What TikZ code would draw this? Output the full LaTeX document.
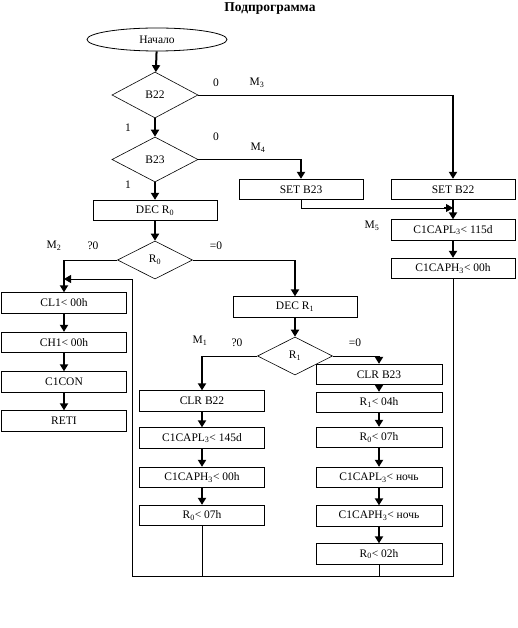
\documentclass[tikz,border=0pt]{standalone}
\usepackage{fontspec}
\setmainfont{Liberation Serif}
\usetikzlibrary{shapes.geometric,arrows.meta}
\begin{document}
\begin{tikzpicture}[x=1pt,y=-1pt,
  every node/.style={font=\fontsize{11.5}{13}\selectfont},
  box/.style={draw,line width=0.8pt,fill=white,minimum width=124pt,minimum height=20.5pt,inner sep=0pt},
  dia/.style={draw,diamond,line width=0.6pt,inner sep=0pt},
  flow/.style={line width=2pt,-{Triangle[length=7pt,width=8pt]}},
  wire/.style={line width=0.8pt},
  lbl/.style={inner sep=0pt}]
\useasboundingbox (0,0) rectangle (518,628);
\node[lbl,font=\fontsize{13.5}{15}\selectfont\bfseries] (title) at (270,9) {Подпрограмма};
\node[draw,ellipse,line width=0.8pt,minimum width=140pt,minimum height=23pt,inner sep=0pt,font=\fontsize{11.5}{13}\selectfont] (start) at (157,39.5) {Начало};
\node[dia,minimum width=86pt,minimum height=46pt] (b22) at (155,95) {B22};
\node[dia,minimum width=86pt,minimum height=45pt] (b23) at (155,159.5) {B23};
\node[box] (setb23) at (301,189.5) {SET B23};
\node[box] (setb22) at (453,189.5) {SET B22};
\node[box] (decr0) at (155,210.5) {DEC R\textsubscript{0}};
\node[box] (capl115) at (453,230) {C1CAPL\textsubscript{3}< 115d};
\node[box] (caph00a) at (453,268.5) {C1CAPH\textsubscript{3}< 00h};
\node[dia,minimum width=75pt,minimum height=38pt] (r0) at (155,260) {R\textsubscript{0}};
\node[box,minimum width=125pt] (cl1) at (64,303) {CL1< 00h};
\node[box,minimum width=125pt] (ch1) at (64,342.5) {CH1< 00h};
\node[box,minimum width=125pt] (c1con) at (64,382) {C1CON};
\node[box,minimum width=125pt] (reti) at (64,421) {RETI};
\node[box] (decr1) at (295,307) {DEC R\textsubscript{1}};
\node[dia,minimum width=75pt,minimum height=38pt] (r1) at (295,356) {R\textsubscript{1}};
\node[box,minimum width=125pt] (clrb22) at (202,401) {CLR B22};
\node[box,minimum width=125pt] (capl145) at (202,438) {C1CAPL\textsubscript{3}< 145d};
\node[box,minimum width=125pt] (caph00b) at (202,477.5) {C1CAPH\textsubscript{3}< 00h};
\node[box,minimum width=125pt] (r007a) at (202,515.5) {R\textsubscript{0}< 07h};
\node[box,minimum width=126pt] (clrb23) at (379,374.5) {CLR B23};
\node[box,minimum width=126pt] (r104) at (379,402.5) {R\textsubscript{1}< 04h};
\node[box,minimum width=126pt] (r007b) at (379,437.5) {R\textsubscript{0}< 07h};
\node[box,minimum width=126pt] (caplnight) at (379,477.5) {C1CAPL\textsubscript{3}< ночь};
\node[box,minimum width=126pt] (caphnight) at (379,516) {C1CAPH\textsubscript{3}< ночь};
\node[box,minimum width=126pt] (r002) at (379,554) {R\textsubscript{0}< 02h};
% labels
\node[lbl] (l0a) at (216,83) {0};
\node[lbl] (lm3) at (257,83) {M\textsubscript{3}};
\node[lbl] (l1a) at (128,128) {1};
\node[lbl] (l0b) at (216,137) {0};
\node[lbl] (lm4) at (258,148) {M\textsubscript{4}};
\node[lbl] (l1b) at (128,185) {1};
\node[lbl] (lm5) at (372,226) {M\textsubscript{5}};
\node[lbl] (lm2) at (54,246) {M\textsubscript{2}};
\node[lbl] (lq0a) at (93,246) {?0};
\node[lbl] (le0a) at (216,246) {=0};
\node[lbl] (lm1) at (200,341) {M\textsubscript{1}};
\node[lbl] (lq0b) at (237,343) {?0};
\node[lbl] (le0b) at (355,343) {=0};
% coordinates
\coordinate (join) at (453,208);
\coordinate (br) at (453,576);
\coordinate (bl) at (132,576);
\coordinate (tl) at (132,279);
\coordinate (entry) at (64,279);
\coordinate (ba) at (202,576);
\coordinate (bb) at (379,576);
% connectors
\draw[flow] (start) -- (b22);
\draw[flow] (b22) -- (b23);
\draw[wire] (b22.east) -- (b22.east -| setb22);
\draw[flow] (b22.east -| setb22) -- (setb22.north);
\draw[wire] (b23.east) -- (b23.east -| setb23);
\draw[flow] (b23.east -| setb23) -- (setb23.north);
\draw[flow] (b23) -- (decr0);
\draw[wire] (setb23.south) |- ([xshift=-6pt]join);
\draw[flow,line width=1pt] ([xshift=-9pt]join) -- (join);
\draw[flow] (setb22) -- (capl115);
\draw[flow] (capl115) -- (caph00a);
\draw[wire] (caph00a.south) -- (br) -- (bl) -- (tl) -- ([xshift=6pt]entry);
\draw[flow,line width=1pt] ([xshift=9pt]entry) -- (entry);
\draw[flow] (decr0) -- (r0);
\draw[wire] (r0.west) -- (r0.west -| cl1);
\draw[flow] (r0.west -| cl1) -- (cl1.north);
\draw[flow] (cl1) -- (ch1);
\draw[flow] (ch1) -- (c1con);
\draw[flow] (c1con) -- (reti);
\draw[wire] (r0.east) -- (r0.east -| decr1);
\draw[flow] (r0.east -| decr1) -- (decr1.north);
\draw[flow] (decr1) -- (r1);
\draw[wire] (r1.west) -- (r1.west -| clrb22);
\draw[flow] (r1.west -| clrb22) -- (clrb22.north);
\draw[flow] (clrb22) -- (capl145);
\draw[flow] (capl145) -- (caph00b);
\draw[flow] (caph00b) -- (r007a);
\draw[wire] (r007a.south) -- (ba);
\draw[wire] (r1.east) -- (r1.east -| clrb23);
\draw[flow] (r1.east -| clrb23) -- (clrb23.north);
\draw[flow] (clrb23) -- (r104);
\draw[flow] (r104) -- (r007b);
\draw[flow] (r007b) -- (caplnight);
\draw[flow] (caplnight) -- (caphnight);
\draw[flow] (caphnight) -- (r002);
\draw[wire] (r002.south) -- (bb);
\end{tikzpicture}
\end{document}
